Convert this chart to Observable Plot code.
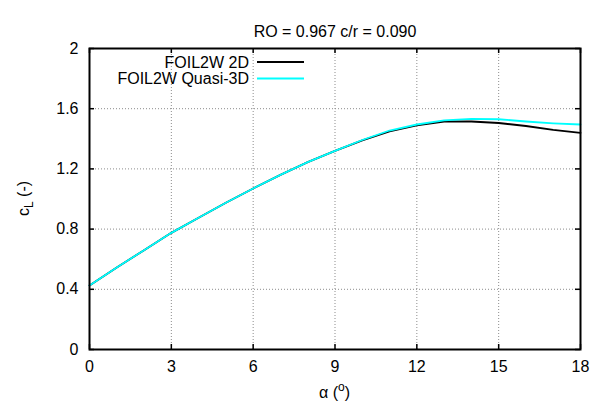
<!DOCTYPE html>
<html><head><meta charset="utf-8">
<script src="https://cdn.jsdelivr.net/npm/d3@7"></script>
<script src="https://cdn.jsdelivr.net/npm/@observablehq/plot@0.6"></script>
<style>
body{margin:0;background:#fff}
svg{font-family:"Liberation Sans",Arial,sans-serif}
</style>
</head><body><div id="chart"></div>
<script>
const chartTitle = "RO = 0.967 c/r = 0.090";
const alpha = [0,1,2,3,4,5,6,7,8,9,10,11,12,13,14,15,16,17,18];
const cl2d  = [0.425,0.545,0.66,0.775,0.875,0.975,1.07,1.16,1.245,1.32,1.39,1.45,1.49,1.515,1.515,1.505,1.485,1.46,1.44];
const cl3d  = [0.425,0.545,0.66,0.775,0.875,0.975,1.07,1.16,1.245,1.32,1.392,1.455,1.495,1.522,1.532,1.53,1.515,1.503,1.495];
const seriesNames = ["FOIL2W 2D","FOIL2W Quasi-3D"];
const seriesColors = ["#000000","#00ffff"];
const xTicks = [0,3,6,9,12,15,18];
const yTicks = [0,0.4,0.8,1.2,1.6,2];
const yTickLabels = ["0","0.4","0.8","1.2","1.6","2"];

const W = 591, H = 403, mL = 89, mR = 11, mT = 48, mB = 54;
const innerW = W - mL - mR, innerH = H - mT - mB;
const tickLen = 5;

const rows = [];
[cl2d, cl3d].forEach((vals, s) => vals.forEach((v, i) => rows.push({alpha: alpha[i], cl: v, series: seriesNames[s]})));

const svg = Plot.plot({
  width: W, height: H,
  marginLeft: mL, marginRight: mR, marginTop: mT, marginBottom: mB,
  style: {fontFamily: '"Liberation Sans", Arial, sans-serif', fontSize: "16px", background: "#fff"},
  x: {domain: [0, 18]},
  y: {domain: [0, 2]},
  color: {domain: seriesNames, range: seriesColors},
  marks: [
    Plot.gridX(xTicks.slice(1, -1), {stroke: "#8c8c8c", strokeOpacity: 1, strokeDasharray: "1,2"}),
    Plot.gridY(yTicks.slice(1, -1), {stroke: "#8c8c8c", strokeOpacity: 1, strokeDasharray: "1,2"}),
    Plot.tickX(xTicks, {x: d => d, insetTop: innerH - tickLen, stroke: "#000", strokeWidth: 1.5}),
    Plot.tickX(xTicks, {x: d => d, insetBottom: innerH - tickLen, stroke: "#000", strokeWidth: 1.5}),
    Plot.tickY(yTicks, {y: d => d, insetRight: innerW - tickLen, stroke: "#000", strokeWidth: 1.5}),
    Plot.tickY(yTicks, {y: d => d, insetLeft: innerW - tickLen, stroke: "#000", strokeWidth: 1.5}),
    Plot.line(rows, {x: "alpha", y: "cl", z: "series", stroke: "series", strokeWidth: 1.8}),
    Plot.frame({stroke: "#000", strokeWidth: 2}),
    Plot.axisX({ticks: xTicks, tickSize: 0, tickPadding: 11, fontSize: 16, label: null}),
    Plot.axisY({ticks: yTicks, tickSize: 0, tickPadding: 11, fontSize: 16, label: null,
      tickFormat: d => yTickLabels[yTicks.indexOf(d)]}),
    Plot.text([chartTitle], {frameAnchor: "top", dy: -23, fontSize: 16, fill: "#000"})
  ]
});

const s = d3.select(svg);
// x axis label with superscript
const xl = s.append("text").attr("x", mL + innerW / 2).attr("y", H - 5)
  .attr("text-anchor", "middle").attr("font-size", 16).attr("fill", "#000");
xl.append("tspan").text("α (");
xl.append("tspan").attr("font-size", 12).attr("dy", -7).text("o");
xl.append("tspan").attr("dy", 7).text(")");
// y axis label with subscript
const yl = s.append("text").attr("transform", `translate(29,${mT + innerH / 2}) rotate(-90)`)
  .attr("text-anchor", "middle").attr("font-size", 16).attr("fill", "#000");
yl.append("tspan").text("c");
yl.append("tspan").attr("font-size", 12).attr("dy", 4).text("L");
yl.append("tspan").attr("dy", -4).text(" (-)");
// legend
const lg = s.append("g");
seriesNames.forEach((name, i) => {
  const y = mT + 14 + i * 16.5;
  lg.append("text").attr("x", 249).attr("y", y).attr("dy", "0.35em")
    .attr("text-anchor", "end").attr("font-size", 16).attr("fill", "#000").text(name);
  lg.append("line").attr("x1", 257).attr("x2", 304).attr("y1", y).attr("y2", y)
    .attr("stroke", seriesColors[i]).attr("stroke-width", 2);
});

document.getElementById("chart").appendChild(svg);
</script>
</body></html>
